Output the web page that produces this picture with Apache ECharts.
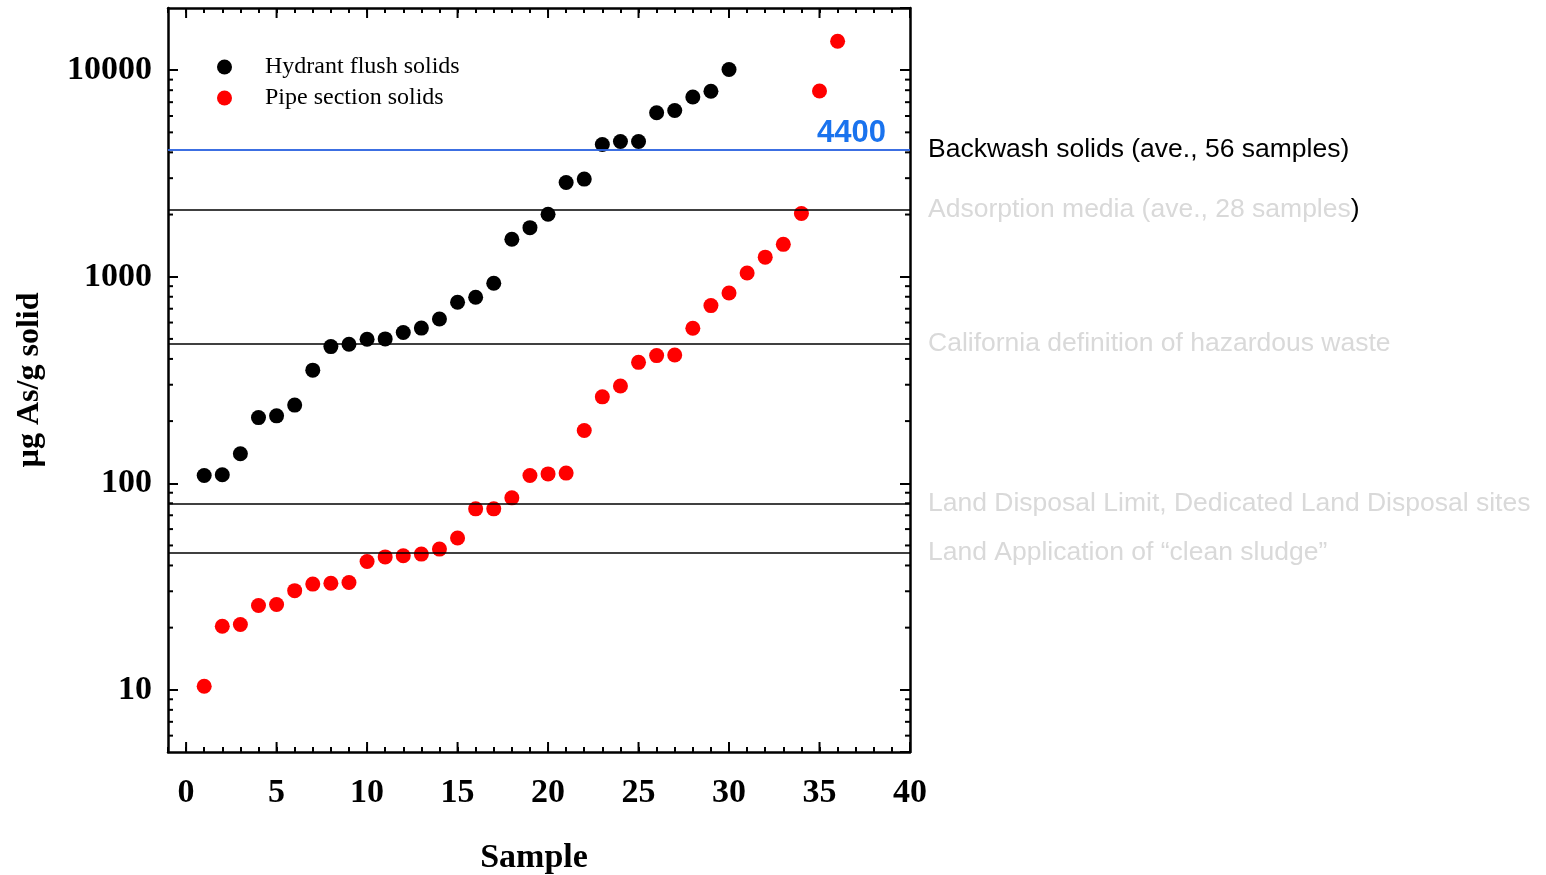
<!DOCTYPE html>
<html>
<head>
<meta charset="utf-8">
<script src="https://cdn.jsdelivr.net/npm/echarts@6/dist/echarts.min.js"></script>
<style>html,body{margin:0;padding:0;background:#fff}#c{width:1546px;height:875px}</style>
</head>
<body>
<div id="c"></div>
<script>
// ---- data ----
const hydrantSamples = [1,2,3,4,5,6,7,8,9,10,11,12,13,14,15,16,17,18,19,20,21,22,23,24,25,26,27,28,29,30];
const hydrantValues = [109,110,139,208,212,239,353,459,471,498,500,537,564,624,752,795,930,1518,1728,2008,2858,2970,4365,4515,4515,6225,6384,7411,7907,10080];
const pipeSamples = [1,2,3,4,5,6,7,8,9,10,11,12,13,14,15,16,17,18,19,20,21,22,23,24,25,26,27,28,29,30,31,32,33,34,35,36];
const pipeValues = [10.4,20.3,20.7,25.6,25.9,30.2,32.5,32.8,33.1,41.8,44.0,44.6,45.4,48.0,54.3,75.2,75.2,85,109,111,112,180,262,296,385,415,418,563,725,834,1043,1244,1435,2023,7930,13800];
const refValues = [4100, 2120, 476, 79.5, 46.3];
const refTexts = [
  'Backwash solids (ave., 56 samples)',
  'Adsorption media (ave., 28 samples',
  'California definition of hazardous waste',
  'Land Disposal Limit, Dedicated Land Disposal sites',
  'Land Application of \u201cclean sludge\u201d'
];
const backwashLabel = '4400';
const xRange = [-1, 40];
const yRange = [5, 20000];
const xMajorTicks = [0,5,10,15,20,25,30,35,40];
const yMinorTicks = [6,7,8,9,20,30,40,50,60,70,80,90,200,300,400,500,600,700,800,900,2000,3000,4000,5000,6000,7000,8000,9000];

const SERIF = '"Liberation Serif", "Times New Roman", serif';
const SANS = '"Liberation Sans", Arial, sans-serif';
const GRAY = '#d9d9d9';
const REF_FONT = 26.5;

const chart = echarts.init(document.getElementById('c'), null, {renderer: 'canvas'});

const refData = refValues.map((v, i) => {
  const item = {yAxis: v, lineStyle: {color: i === 0 ? '#2f66e0' : '#000', width: 1.6, type: 'solid'},
    label: {show: true, position: 'end', distance: 18, fontFamily: SANS, fontSize: REF_FONT,
            color: i === 0 ? '#000' : GRAY, formatter: refTexts[i]}};
  if (i === 0) item.label.padding = [3, 0, 0, 0];
  if (i === 1) {
    item.label.formatter = '{g|' + refTexts[i] + '}{b|)}';
    item.label.rich = {g: {color: GRAY, fontFamily: SANS, fontSize: REF_FONT}, b: {color: '#000', fontFamily: SANS, fontSize: REF_FONT}};
  }
  return item;
});
refData.push({yAxis: refValues[0], lineStyle: {color: '#2f66e0', width: 1.6, type: 'solid'},
  label: {show: true, position: 'insideEndTop', distance: [24, 1], formatter: backwashLabel,
          fontFamily: SANS, fontSize: 31, fontWeight: 'bold', color: '#1a73ee'}});

function tickSeries(values, axis, len) {
  return {
    type: 'custom', silent: true, clip: false, z: 10,
    data: values.map(v => [v]),
    renderItem: function (params, api) {
      const v = api.value(0);
      let a, b;
      if (axis === 'x') { a = api.coord([v, yRange[0]]); b = api.coord([v, yRange[1]]);
        return {type: 'group', children: [
          {type: 'line', shape: {x1: a[0], y1: a[1], x2: a[0], y2: a[1] - len}, style: {stroke: '#000', lineWidth: 2}},
          {type: 'line', shape: {x1: b[0], y1: b[1], x2: b[0], y2: b[1] + len}, style: {stroke: '#000', lineWidth: 2}}]};
      } else { a = api.coord([xRange[0], v]); b = api.coord([xRange[1], v]);
        return {type: 'group', children: [
          {type: 'line', shape: {x1: a[0], y1: a[1], x2: a[0] + len, y2: a[1]}, style: {stroke: '#000', lineWidth: 2}},
          {type: 'line', shape: {x1: b[0], y1: b[1], x2: b[0] - len, y2: b[1]}, style: {stroke: '#000', lineWidth: 2}}]};
      }
    }
  };
}

const axisLineStyle = {show: true, onZero: false, lineStyle: {color: '#000', width: 2.5}};
const option = {
  animation: false,
  backgroundColor: '#fff',
  grid: {left: 168, right: 636, top: 8, bottom: 123, containLabel: false, outerBoundsMode: 'none'},
  legend: {
    data: ['Hydrant flush solids', 'Pipe section solids'],
    orient: 'vertical', left: 212, top: 50, itemWidth: 15, itemHeight: 15, itemGap: 7, icon: 'circle',
    textStyle: {fontFamily: SERIF, fontSize: 24, color: '#000', padding: [0, 0, 0, 28], lineHeight: 22}
  },
  xAxis: [
    {type: 'value', min: xRange[0], max: xRange[1], interval: 1, position: 'bottom',
     name: 'Sample', nameLocation: 'middle', nameGap: 89,
     nameTextStyle: {fontFamily: SERIF, fontSize: 34, fontWeight: 'bold', color: '#000', padding: [0, 10, 0, 0]},
     axisLine: axisLineStyle, splitLine: {show: false},
     axisTick: {show: true, inside: true, length: 5, lineStyle: {color: '#000', width: 2}},
     axisLabel: {fontFamily: SERIF, fontSize: 34, fontWeight: 'bold', color: '#000', margin: 24,
                 formatter: v => (v % 5 === 0 ? String(v) : '')}},
    {type: 'value', min: xRange[0], max: xRange[1], interval: 1, position: 'top',
     axisLine: axisLineStyle, splitLine: {show: false},
     axisTick: {show: true, inside: true, length: 5, lineStyle: {color: '#000', width: 2}},
     axisLabel: {show: false}}
  ],
  yAxis: [
    {type: 'log', logBase: 10, min: yRange[0], max: yRange[1], position: 'left',
     name: '\u00b5g As/g solid', nameLocation: 'middle', nameGap: 122, nameRotate: 90,
     nameTextStyle: {fontFamily: SERIF, fontSize: 32, fontWeight: 'bold', color: '#000'},
     axisLine: axisLineStyle, splitLine: {show: false},
     axisTick: {show: true, inside: true, length: 10, lineStyle: {color: '#000', width: 2}},
     axisLabel: {fontFamily: SERIF, fontSize: 34, fontWeight: 'bold', color: '#000', margin: 16,
                 showMinLabel: false, showMaxLabel: false, formatter: v => String(Math.round(v))}},
    {type: 'log', logBase: 10, min: yRange[0], max: yRange[1], position: 'right',
     axisLine: axisLineStyle, splitLine: {show: false},
     axisTick: {show: true, inside: true, length: 10, lineStyle: {color: '#000', width: 2}},
     axisLabel: {show: false}}
  ],
  series: [
    {name: 'Hydrant flush solids', type: 'scatter', symbol: 'circle', symbolSize: 15,
     itemStyle: {color: '#000', opacity: 1}, z: 3,
     data: hydrantSamples.map((s, i) => [s, hydrantValues[i]]),
     markLine: {silent: true, symbol: ['none', 'none'], animation: false, data: refData}},
    {name: 'Pipe section solids', type: 'scatter', symbol: 'circle', symbolSize: 15,
     itemStyle: {color: '#ff0000', opacity: 1}, z: 3,
     data: pipeSamples.map((s, i) => [s, pipeValues[i]])},
    tickSeries(xMajorTicks, 'x', 10),
    tickSeries(yMinorTicks, 'y', 5)
  ]
};
chart.setOption(option);
</script>
</body>
</html>
